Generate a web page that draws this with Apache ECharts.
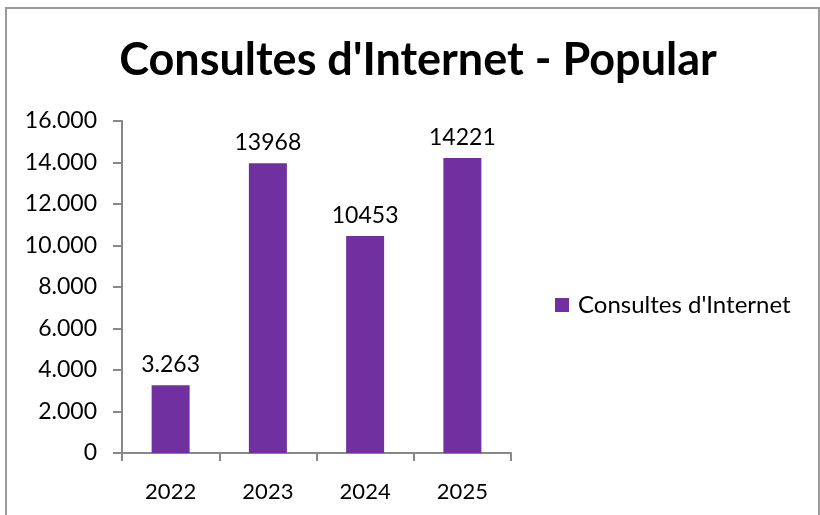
<!DOCTYPE html>
<html>
<head>
<meta charset="utf-8">
<script src="https://cdn.jsdelivr.net/npm/echarts@6/dist/echarts.min.js"></script>
<style>
  html, body { margin: 0; padding: 0; background: #fff; }
  #chart { width: 820px; height: 515px; }
</style>
</head>
<body>
<div id="chart"></div>
<script>
// dades del gràfic
const categories = ['2022', '2023', '2024', '2025']
const seriesName = "Consultes d'Internet"
const values = [3263, 13968, 10453, 14221]
const valueLabels = ['3.263', '13968', '10453', '14221']
const yTicks = [0, 2000, 4000, 6000, 8000, 10000, 12000, 14000, 16000]

const font = 'Lato, "Open Sans", sans-serif'

const myChart = echarts.init(document.getElementById('chart'), null, { renderer: 'canvas' })

myChart.setOption({
  animation: false,
  backgroundColor: '#fff',
  color: ['#7030A0'],
  title: {
    text: "Consultes d'Internet - Popular",
    left: 413,
    textAlign: 'center',
    top: 33,
    textStyle: { fontFamily: font, fontSize: 45, fontWeight: 'bold', color: '#000' }
  },
  graphic: [
    {
      type: 'rect',
      shape: { x: 6, y: 8, width: 813, height: 520 },
      style: { fill: 'none', stroke: '#9a9a9a', lineWidth: 2 },
      silent: true
    }
  ],
  legend: {
    orient: 'vertical',
    left: 555,
    top: 293,
    padding: 0,
    itemWidth: 14,
    itemHeight: 14,
    icon: 'rect',
    textStyle: { fontFamily: font, fontSize: 24, color: '#000', padding: [0, 0, 0, 4] },
    data: [seriesName]
  },
  grid: { left: 122, top: 121, right: 309, bottom: 62 },
  xAxis: {
    type: 'category',
    data: categories,
    axisLine: { lineStyle: { color: '#888', width: 2 } },
    axisTick: { show: true, length: 8, lineStyle: { color: '#888', width: 2 } },
    axisLabel: { fontFamily: font, fontSize: 22, color: '#000', margin: 28 }
  },
  yAxis: {
    type: 'value',
    min: yTicks[0],
    max: yTicks[yTicks.length - 1],
    interval: yTicks[1] - yTicks[0],
    axisLine: { show: true, lineStyle: { color: '#888', width: 2 } },
    axisTick: { show: true, length: 9, lineStyle: { color: '#888', width: 2 } },
    splitLine: { show: false },
    axisLabel: {
      fontFamily: font,
      fontSize: 23,
      color: '#000',
      margin: 25,
      formatter: function(v) {
        return v === 0 ? '0' : String(v).replace(/\B(?=(\d{3})+(?!\d))/g, '.')
      }
    }
  },
  series: [
    {
      name: seriesName,
      type: 'bar',
      barWidth: 38,
      data: values,
      label: {
        show: true,
        position: 'top',
        distance: 9,
        fontFamily: font,
        fontSize: 23,
        color: '#000',
        formatter: function(p) { return valueLabels[p.dataIndex] }
      }
    }
  ]
})
</script>
</body>
</html>
